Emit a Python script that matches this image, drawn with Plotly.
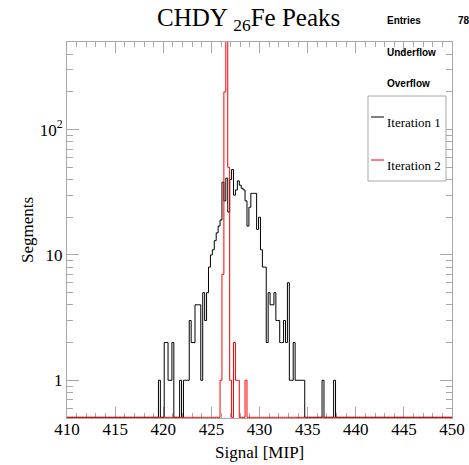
import numpy as np
import plotly.graph_objects as go

# ---------------- data ----------------
BIN_W = 0.2
black_start = 419.5
black_counts = [1, 0, 0, 2, 2, 1, 1, 2, 0, 0, 0, 1, 0, 1, 1, 1, 3, 2, 2, 4,
                4, 4, 1, 5, 3, 5, 8, 10, 11, 13, 15, 17, 19, 38, 27, 41, 22, 40, 48, 30,
                33, 39, 36, 34, 33, 27, 17, 24, 31, 31, 31, 16, 20, 11, 8, 8, 2, 5, 4, 4,
                5, 3, 3, 2, 2, 3, 2, 6, 1, 1, 2, 1, 1, 1, 1, 1, 0, 0, 0, 0,
                0, 0, 0, 0, 0, 1, 0, 0, 0, 0, 0, 1]
red_start = 425.9
red_counts = [1, 7, 200, 520, 50, 1, 0, 2, 1, 1, 0, 0, 0, 1]

x_ticks = [410, 415, 420, 425, 430, 435, 440, 445, 450]
y_ticks = [1, 10, 100]
y_ticktext = ["1", "10", "10<sup>2</sup>"]
y_minor = [0.6, 0.7, 0.8, 0.9, 2, 3, 4, 5, 6, 7, 8, 9,
           20, 30, 40, 50, 60, 70, 80, 90, 200, 300, 400, 500]
legend_labels = ["Iteration 1", "Iteration 2"]
stats_labels = ["Entries", "Underflow", "Overflow"]
stats_values = ["784", "0", "0"]

X_LO, X_HI = 410, 450
Y_LO, Y_HI = 0.5, 500
EDGE0 = 409.9
NBINS = 202

# ---------------- geometry ----------------
W, H = 480, 465          # page window is 469 wide; the extra is cropped like the reference
L, R, T, B = 67, 452, 42, 418
GRAY = "#a8a8a8"
SERIF = "Liberation Serif"
SANS = "Liberation Sans"


def px_x(p):
    return (p - L) / (R - L)


def px_y(p):
    return (B - p) / (B - T)


def full_hist(start, counts):
    arr = np.zeros(NBINS)
    off = int(round((start - EDGE0) / BIN_W))
    arr[off:off + len(counts)] = counts
    edges = EDGE0 + BIN_W * np.arange(NBINS + 1)
    floor = Y_LO * 1.012
    y = np.maximum(arr, floor)
    y = np.append(y, y[-1])
    return edges, y


fig = go.Figure()
for start, counts, color in [(black_start, black_counts, "#000000"),
                             (red_start, red_counts, "#ff0000")]:
    ex, ey = full_hist(start, counts)
    fig.add_trace(go.Scatter(x=ex, y=ey, mode="lines", line_shape="hv",
                             line=dict(color=color, width=1), showlegend=False,
                             hoverinfo="skip"))

fig.update_layout(
    width=W, height=H, autosize=False,
    margin=dict(l=L, r=W - R, t=T, b=H - B),
    paper_bgcolor="white", plot_bgcolor="white",
    showlegend=False,
    xaxis=dict(range=[X_LO, X_HI], showgrid=False, zeroline=False,
               showline=True, linecolor=GRAY, linewidth=1, mirror="allticks",
               ticks="inside", ticklen=11, tickcolor=GRAY, tickwidth=1,
               tickvals=x_ticks, ticktext=[str(v) for v in x_ticks],
               tickfont=dict(family=SERIF, size=17, color="black"),
               ticklabelstandoff=-4,
               minor=dict(dtick=1, tick0=410, ticks="inside", ticklen=5,
                          tickcolor=GRAY, tickwidth=1, showgrid=False),
               layer="below traces"),
    yaxis=dict(type="log", range=[np.log10(Y_LO), np.log10(Y_HI)],
               showgrid=False, zeroline=False,
               showline=True, linecolor=GRAY, linewidth=1, mirror="allticks",
               ticks="inside", ticklen=12, tickcolor=GRAY, tickwidth=1,
               tickvals=y_ticks, ticktext=y_ticktext,
               tickfont=dict(family=SERIF, size=17, color="black"),
               minor=dict(tickvals=y_minor, ticks="inside", ticklen=6,
                          tickcolor=GRAY, tickwidth=1, showgrid=False),
               layer="below traces"),
)

ann = []
# title
ann.append(dict(text="CHDY <sub>26</sub>Fe Peaks", x=px_x(248), y=px_y(2),
                xref="paper", yref="paper", xanchor="center", yanchor="top",
                showarrow=False, font=dict(family=SERIF, size=25, color="black")))
# axis titles
ann.append(dict(text="Signal [MIP]", x=px_x(259), y=px_y(452),
                xref="paper", yref="paper", xanchor="center", yanchor="middle",
                showarrow=False, font=dict(family=SERIF, size=17, color="black")))
ann.append(dict(text="Segments", x=px_x(27), y=px_y(230), textangle=-90,
                xref="paper", yref="paper", xanchor="center", yanchor="middle",
                showarrow=False, font=dict(family=SERIF, size=17, color="black")))
# stats box
for lab, val, yc in zip(stats_labels, stats_values, [21, 52.5, 83]):
    ann.append(dict(text="<b>%s</b>" % lab, x=px_x(385), y=px_y(yc),
                    xref="paper", yref="paper", xanchor="left", yanchor="middle",
                    showarrow=False, font=dict(family=SANS, size=10, color="black")))
    ann.append(dict(text="<b>%s</b>" % val, x=px_x(476.5), y=px_y(yc),
                    xref="paper", yref="paper", xanchor="right", yanchor="middle",
                    showarrow=False, font=dict(family=SANS, size=10, color="black")))

shapes = []
# legend box
shapes.append(dict(type="rect", xref="paper", yref="paper",
                   x0=px_x(368), x1=px_x(446), y0=px_y(181), y1=px_y(96),
                   fillcolor="white", line=dict(color=GRAY, width=1), layer="above"))
for lab, col, ly, ty in zip(legend_labels, ["#000000", "#ff0000"], [117, 160], [122.5, 165.5]):
    shapes.append(dict(type="line", xref="paper", yref="paper",
                       x0=px_x(371), x1=px_x(384), y0=px_y(ly), y1=px_y(ly),
                       line=dict(color=col, width=1), layer="above"))
    ann.append(dict(text=lab, x=px_x(385), y=px_y(ty),
                    xref="paper", yref="paper", xanchor="left", yanchor="middle",
                    showarrow=False, font=dict(family=SERIF, size=13, color="black")))

fig.update_layout(annotations=ann, shapes=shapes)
fig.write_html(
    "out.html",
    config={"displayModeBar": False, "responsive": False},
    post_script=("document.documentElement.style.overflow='hidden';"
                 "document.body.style.overflow='hidden';"
                 "document.body.style.margin='0px';document.body.style.padding='0px';"),
)
